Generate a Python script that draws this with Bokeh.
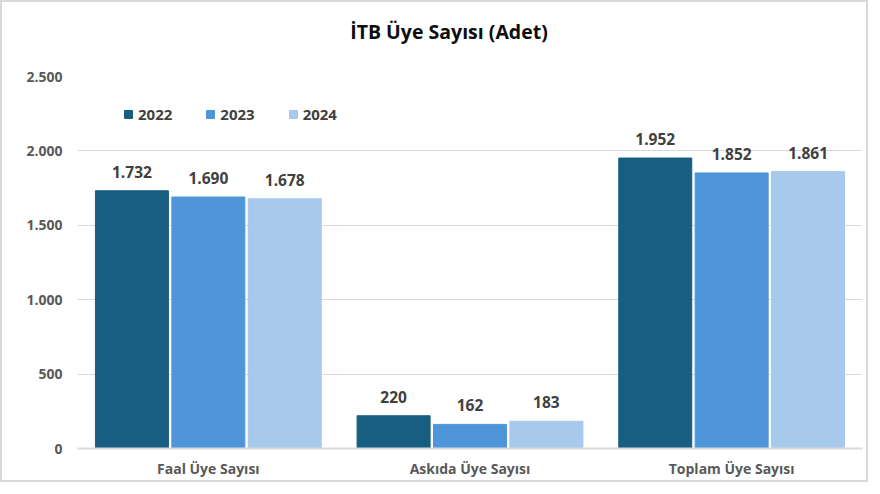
from bokeh.plotting import figure
from bokeh.models import Range1d, FixedTicker, ColumnDataSource, Legend, Div, Column
from bokeh.transform import dodge
from bokeh.core.properties import value
from bokeh.embed import file_html
from bokeh.resources import INLINE

categories = ["Faal Üye Sayısı", "Askıda Üye Sayısı", "Toplam Üye Sayısı"]
years = ["2022", "2023", "2024"]
v2022 = [1732, 220, 1952]
v2023 = [1690, 162, 1852]
v2024 = [1678, 183, 1861]
y_ticks = [0, 500, 1000, 1500, 2000, 2500]
y_tick_labels = ["0", "500", "1.000", "1.500", "2.000", "2.500"]
title_text = "İTB Üye Sayısı (Adet)"

colors = ["#175e80", "#4f95d9", "#a6c9ec"]
FONT = "Open Sans"

def tr(n):
    return f"{n:,}".replace(",", ".")

series = [v2022, v2023, v2024]
offsets = [-0.292, 0.0, 0.292]

p = figure(width=864, height=414, x_range=categories, y_range=Range1d(0, 2500),
           output_backend="svg", toolbar_location=None,
           min_border_left=75, min_border_right=4, min_border_top=10, min_border_bottom=32)
p.background_fill_color = "white"
p.border_fill_color = "white"
p.outline_line_color = None

renderers = []
for yr, vals, off, c in zip(years, series, offsets, colors):
    src = ColumnDataSource(dict(cat=categories, val=vals, lab=[tr(v) for v in vals]))
    r = p.vbar(x=dodge("cat", off, range=p.x_range), top="val", width=0.279, source=src,
               fill_color=c, line_color=c, line_width=1)
    renderers.append((yr, [r]))
    p.text(x=dodge("cat", off, range=p.x_range), y="val", text="lab", source=src,
           text_align="center", text_baseline="bottom", y_offset=-13,
           text_font=value(FONT), text_font_style="bold", text_font_size="15.5px",
           text_color="#404040")

legend = Legend(items=renderers, orientation="horizontal", location=(46, 324),
                glyph_width=10, glyph_height=10, label_standoff=5, spacing=33,
                padding=0, margin=0, label_height=16,
                label_text_font=FONT, label_text_font_style="bold",
                label_text_font_size="15px", label_text_color="#404040",
                border_line_color=None, background_fill_alpha=0)
p.add_layout(legend, "center")

p.yaxis.ticker = FixedTicker(ticks=y_ticks)
p.yaxis.major_label_overrides = {t: l for t, l in zip(y_ticks, y_tick_labels)}
p.yaxis.axis_line_color = None
p.yaxis.major_tick_line_color = None
p.yaxis.minor_tick_line_color = None
p.yaxis.major_tick_out = 0
p.yaxis.major_label_standoff = 15
p.yaxis.major_label_text_font = FONT
p.yaxis.major_label_text_font_style = "bold"
p.yaxis.major_label_text_font_size = "14px"
p.yaxis.major_label_text_color = "#595959"

p.xaxis.axis_line_color = "#d9d9d9"
p.xaxis.axis_line_width = 2
p.xaxis.major_tick_line_color = None
p.xaxis.minor_tick_line_color = None
p.xaxis.major_tick_out = 0
p.xaxis.major_tick_in = 0
p.xaxis.major_label_standoff = 10
p.xaxis.major_label_text_font = FONT
p.xaxis.major_label_text_font_style = "bold"
p.xaxis.major_label_text_font_size = "14px"
p.xaxis.major_label_text_color = "#595959"

p.xgrid.grid_line_color = None
p.ygrid.grid_line_color = "#d9d9d9"
p.ygrid.grid_line_width = 1

title_div = Div(
    text=("<div style=\"width:894px;height:60px;line-height:60px;text-align:center;"
          "font-family:'Open Sans';font-weight:700;font-size:19.5px;color:#0d0d0d;"
          "white-space:nowrap;margin:0;padding:0\">" + title_text + "</div>"),
    width=864, height=64, margin=0)
p.margin = 0

layout = Column(children=[title_div, p], spacing=0,
                styles={"border": "2px solid #d9d9d9", "box-sizing": "border-box",
                        "background-color": "white", "overflow": "hidden"})

open("out.html", "w").write(file_html(layout, INLINE))
